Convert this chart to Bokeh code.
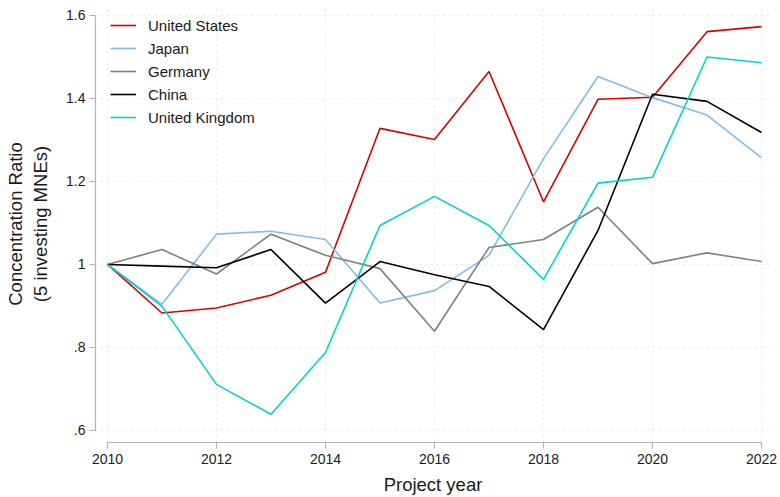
from bokeh.plotting import figure
from bokeh.models import FixedTicker, Legend, LegendItem
from bokeh.embed import file_html
from bokeh.resources import INLINE

years = list(range(2010, 2023))

united_states = [1.0, 0.883, 0.895, 0.926, 0.981, 1.328, 1.301, 1.465, 1.151, 1.398, 1.403, 1.561, 1.573]
japan = [1.0, 0.904, 1.073, 1.080, 1.060, 0.907, 0.937, 1.022, 1.255, 1.453, 1.402, 1.360, 1.257]
germany = [1.0, 1.036, 0.977, 1.073, 1.022, 0.990, 0.839, 1.041, 1.060, 1.138, 1.002, 1.028, 1.007]
china = [1.0, 0.996, 0.992, 1.036, 0.907, 1.007, 0.975, 0.947, 0.843, 1.082, 1.410, 1.393, 1.318]
united_kingdom = [1.0, 0.899, 0.711, 0.639, 0.788, 1.094, 1.164, 1.094, 0.964, 1.196, 1.210, 1.500, 1.486]

series_names = ["United States", "Japan", "Germany", "China", "United Kingdom"]
series_values = [united_states, japan, germany, china, united_kingdom]
series_colors = ["#d90000", "#80bde8", "#808080", "#000000", "#00d2d6"]

x_ticks = [2010, 2012, 2014, 2016, 2018, 2020, 2022]
y_ticks = [0.6, 0.8, 1.0, 1.2, 1.4, 1.6]
y_tick_labels = [".6", ".8", "1", "1.2", "1.4", "1.6"]

FONT = "Liberation Sans"
AXIS_GRAY = "#b4b4b4"

p = figure(
    width=780, height=497,
    x_range=(2009.78, 2022.165), y_range=(0.571, 1.624),
    output_backend="svg", toolbar_location=None,
    min_border_left=95, min_border_right=10,
    min_border_top=5, min_border_bottom=55,
)
p.outline_line_color = None
p.background_fill_color = "white"
p.border_fill_color = "white"

items = []
for name, vals, col in zip(series_names, series_values, series_colors):
    r = p.line(years, vals, line_color=col, line_width=1.6)
    items.append(LegendItem(label=name, renderers=[r]))

legend = Legend(
    items=items, location=(15, 315),
    border_line_color=None, background_fill_alpha=0,
    padding=0, margin=0, spacing=3,
    label_height=20, glyph_height=20, glyph_width=26,
    label_standoff=12,
    label_text_font=FONT, label_text_font_size="15px", label_text_color="#1a1a1a",
)
p.add_layout(legend, "center")

# axes
p.xaxis.ticker = FixedTicker(ticks=x_ticks)
p.yaxis.ticker = FixedTicker(ticks=y_ticks)
p.yaxis.major_label_overrides = {t: lab for t, lab in zip(y_ticks, y_tick_labels)}
p.xaxis.bounds = (x_ticks[0], x_ticks[-1])
p.yaxis.bounds = (y_ticks[0], y_ticks[-1])

for ax in (p.xaxis, p.yaxis):
    ax.axis_line_color = AXIS_GRAY
    ax.axis_line_width = 1.2
    ax.major_tick_line_color = AXIS_GRAY
    ax.major_tick_line_width = 1.2
    ax.major_tick_out = 6
    ax.major_tick_in = 0
    ax.minor_tick_line_color = None
    ax.major_label_text_font = FONT
    ax.major_label_text_font_size = "14px"
    ax.major_label_text_color = "#1a1a1a"
    ax.axis_label_text_font = FONT
    ax.axis_label_text_font_size = "18.5px"
    ax.axis_label_text_font_style = "normal"
    ax.axis_label_text_color = "#1a1a1a"

p.yaxis.major_label_orientation = "horizontal"
p.xaxis.major_label_standoff = 5
p.yaxis.major_label_standoff = 4
p.xaxis.axis_label = "Project year"
p.xaxis.axis_label_standoff = 7
p.yaxis.axis_label = "Concentration Ratio\n(5 investing MNEs)"
p.yaxis.axis_label_standoff = 12

# dotted grid
p.xgrid.ticker = FixedTicker(ticks=x_ticks)
p.ygrid.ticker = FixedTicker(ticks=y_ticks)
for g in (p.xgrid, p.ygrid):
    g.grid_line_color = "#cfcfcf"
    g.grid_line_dash = "1 5"
    g.grid_line_width = 1

open("out.html", "w").write(file_html(p, INLINE))
